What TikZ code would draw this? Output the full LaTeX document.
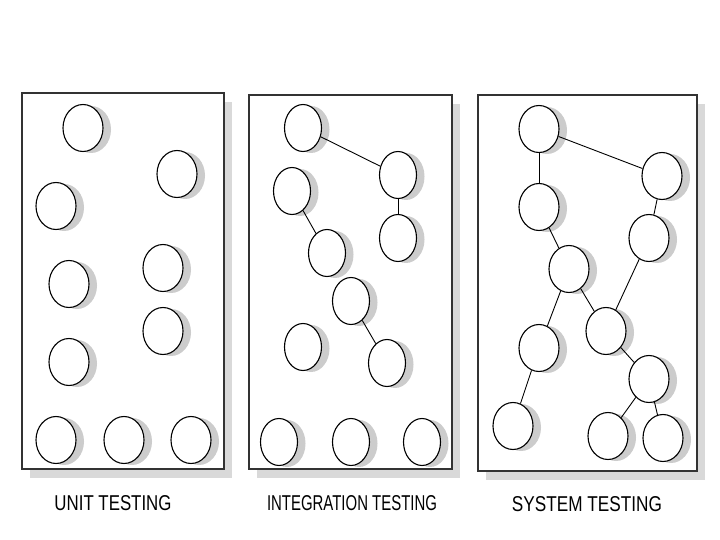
\documentclass[tikz,border=0pt]{standalone}
\usepackage{fontspec}
\setmainfont{Liberation Sans}
\usetikzlibrary{shapes.geometric,shadows}
\begin{document}
\begin{tikzpicture}[x=1pt,y=-1pt,
  panel/.style={draw=black!80, line width=1.8pt, fill=white},
  pshadow/.style={fill=black!15, draw=none},
  cell/.style={ellipse, draw=black, line width=1.1pt, fill=white, inner sep=0pt,
    minimum width=40pt, minimum height=47pt,
    general shadow={fill=black!20, draw=none, shadow xshift=8pt, shadow yshift=-1.5pt}},
  ncell/.style={cell, minimum width=37pt},
  link/.style={draw=black, line width=0.9pt},
  lbl/.style={inner sep=0pt, anchor=base}]
\useasboundingbox (0,0) rectangle (720,540);
% panels
\fill[pshadow] (30,102) rectangle (232,478);
\draw[panel] (22,93) rectangle (224,469);
\fill[pshadow] (257,104) rectangle (460,478);
\draw[panel] (249,95) rectangle (452,469);
\fill[pshadow] (486,104) rectangle (705,480);
\draw[panel] (478,95) rectangle (697,471);
% unit testing
\node[cell] (u1) at (83,128) {};
\node[cell] (u2) at (177,174) {};
\node[cell] (u3) at (56,206) {};
\node[cell] (u4) at (69,284) {};
\node[cell] (u5) at (163,268) {};
\node[cell] (u6) at (163,331) {};
\node[cell] (u7) at (69,362) {};
\node[cell] (u8) at (56,440) {};
\node[cell] (u9) at (124,440) {};
\node[cell] (u10) at (191,440) {};
% integration testing
\node[ncell] (a1) at (303,128) {};
\node[ncell] (a2) at (398,175) {};
\node[ncell] (a3) at (292,191) {};
\node[ncell] (a4) at (398,238) {};
\node[ncell] (a5) at (327,253) {};
\node[ncell] (a6) at (351,301) {};
\node[ncell] (a7) at (303,347) {};
\node[ncell] (a8) at (387,363) {};
\node[ncell] (a9) at (279,442) {};
\node[ncell] (a10) at (351,442) {};
\node[ncell] (a11) at (422,442) {};
\draw[link] (a1) -- (a2);
\draw[link] (a2) -- (a4);
\draw[link] (a3) -- (a5);
\draw[link] (a6) -- (a8);
% system testing
\node[cell] (s1) at (539,129) {};
\node[cell] (s2) at (662,176) {};
\node[cell] (s3) at (539,207) {};
\node[cell] (s4) at (649,238) {};
\node[cell] (s5) at (569,269) {};
\node[cell] (s6) at (606,331) {};
\node[cell] (s7) at (539,348) {};
\node[cell] (s8) at (649,379) {};
\node[cell] (s9) at (513,426) {};
\node[cell] (s10) at (608,436) {};
\node[cell] (s11) at (663,438) {};
\draw[link] (s1) -- (s3);
\draw[link] (s1) -- (s2);
\draw[link] (s2) -- (s4);
\draw[link] (s3) -- (s5);
\draw[link] (s5) -- (s6);
\draw[link] (s4) -- (s6);
\draw[link] (s5) -- (s7);
\draw[link] (s7) -- (s9);
\draw[link] (s6) -- (s8);
\draw[link] (s8) -- (s10);
\draw[link] (s8) -- (s11);
% labels
\node[lbl] (l1) at (113,510) {\resizebox{117pt}{15pt}{UNIT TESTING}};
\node[lbl] (l2) at (352,510) {\resizebox{170pt}{15pt}{INTEGRATION TESTING}};
\node[lbl] (l3) at (587,511) {\resizebox{150pt}{15pt}{SYSTEM TESTING}};
\end{tikzpicture}
\end{document}
